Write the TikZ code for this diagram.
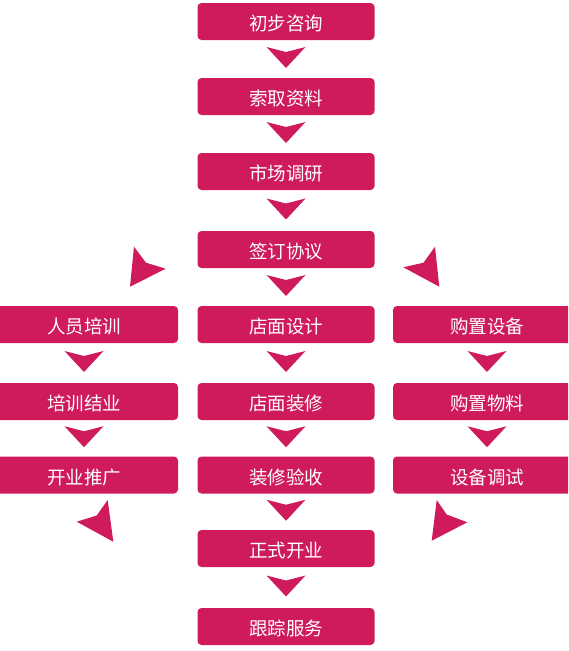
\documentclass[tikz,border=0pt]{standalone}
\usepackage{fontspec}
\setmainfont{Noto Sans CJK SC}
\usetikzlibrary{calc}
\definecolor{mag}{RGB}{207,27,91}
\tikzset{
  box/.style={fill=mag, text=white, rounded corners=4pt, minimum height=37pt,
    minimum width=177pt, inner sep=0pt, text height=18pt, text depth=0pt,
    font=\fontsize{18.5pt}{20pt}\selectfont},
  wbox/.style={box, minimum width=188pt},
  darr/.pic={\fill[mag] (-19.5,-12) -- (0,-7) -- (19.5,-12) -- (0,9) -- cycle;},
  sidearr/.style={fill=mag}
}
\begin{document}
\begin{tikzpicture}[x=1pt,y=-1pt]
\useasboundingbox (0,0) rectangle (568,651);
\clip (0,0) rectangle (568,651);
% centre column
\node[box] (c1) at (286,21.5) {初步咨询};
\node[box] (c2) at (286,96.5) {索取资料};
\node[box] (c3) at (286,171.5) {市场调研};
\node[box] (c4) at (286,249.5) {签订协议};
\node[box] (c5) at (286,324.5) {店面设计};
\node[box] (c6) at (286,401.5) {店面装修};
\node[box] (c7) at (286,475) {装修验收};
\node[box] (c8) at (286,548.5) {正式开业};
\node[box] (c9) at (286,626.5) {跟踪服务};
% left column
\node[wbox] (l1) at (84,324.5) {人员培训};
\node[wbox] (l2) at (84,401.5) {培训结业};
\node[wbox] (l3) at (84,475) {开业推广};
% right column
\node[wbox] (r1) at (487,324.5) {购置设备};
\node[wbox] (r2) at (487,401.5) {购置物料};
\node[wbox] (r3) at (487,475) {设备调试};
% down arrows
\foreach \a/\b in {c1/c2,c2/c3,c3/c4,c4/c5,c5/c6,c6/c7,c7/c8,c8/c9,l1/l2,l2/l3,r1/r2,r2/r3}
  \pic at ($(\a.south)!0.5!(\b.north)$) {darr};
% side arrows
\fill[sidearr] (134,246.7) -- (146,262.7) -- (165.7,268.7) -- (130,286.7) -- cycle;
\fill[sidearr] (435,246.7) -- (423.5,262.7) -- (403.3,267.3) -- (439.3,286.7) -- cycle;
\fill[sidearr] (107.7,500) -- (96.7,515.5) -- (76.7,521.7) -- (113.3,541.7) -- cycle;
\fill[sidearr] (436.7,500) -- (446.7,514.5) -- (467.3,522.3) -- (431.7,540.7) -- cycle;
\end{tikzpicture}
\end{document}
